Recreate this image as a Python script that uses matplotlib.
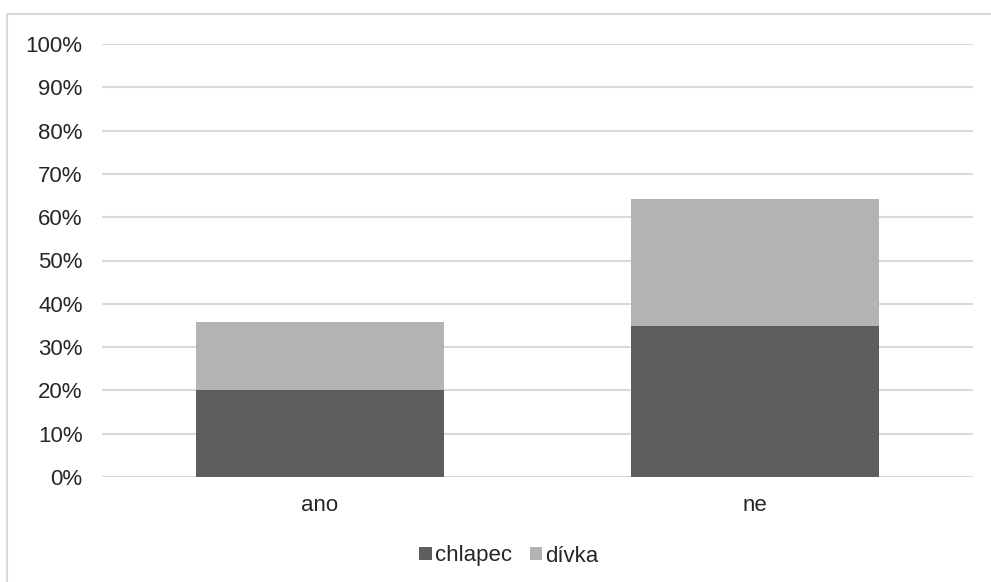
import matplotlib

matplotlib.use("Agg")
import matplotlib.pyplot as plt
from matplotlib.patches import Rectangle
from matplotlib.ticker import PercentFormatter

# Share of answers by gender
categories = ["ano", "ne"]
chlapec = [20.2, 34.9]
divka = [15.6, 29.3]
series_names = ["chlapec", "dívka"]

DARK = "#5e5e5e"
LIGHT = "#b3b3b3"
GRID = "#d9d9d9"
TEXT = "#262626"

plt.rcParams["font.family"] = ["Liberation Sans", "DejaVu Sans"]

fig = plt.figure(figsize=(9.91, 5.82), dpi=100)
ax = fig.add_axes([102 / 991, 1 - 477 / 582, 871 / 991, 433 / 582])

x = range(len(categories))
ax.bar(x, chlapec, width=0.57, color=DARK, label=series_names[0], zorder=3)
ax.bar(x, divka, width=0.57, bottom=chlapec, color=LIGHT, label=series_names[1], zorder=3)

ax.set_xlim(-0.5, 1.5)
ax.set_ylim(0, 100)
ax.set_yticks(range(0, 101, 10))
ax.yaxis.set_major_formatter(PercentFormatter(decimals=0))
ax.set_xticks(list(x))
ax.set_xticklabels(categories)

ax.grid(axis="y", color=GRID, linewidth=1.5, zorder=0)
for side in ["top", "right", "left", "bottom"]:
    ax.spines[side].set_visible(False)
ax.tick_params(axis="both", length=0, labelsize=16, labelcolor=TEXT)
ax.tick_params(axis="y", pad=14)
ax.tick_params(axis="x", pad=13)

leg = fig.legend(
    loc="center",
    bbox_to_anchor=(509 / 991, 1 - 556 / 582),
    ncol=2,
    frameon=False,
    fontsize=16,
    handlelength=0.55,
    handleheight=0.55,
    handletextpad=0.15,
    columnspacing=0.8,
)
for t in leg.get_texts():
    t.set_color(TEXT)

# outer chart frame
fig.patches.append(
    Rectangle((7 / 991, -0.1), 1.2, 1.1 - 14 / 582, transform=fig.transFigure,
              fill=False, edgecolor=GRID, linewidth=1.5)
)

fig.savefig("out.png", dpi=100)
